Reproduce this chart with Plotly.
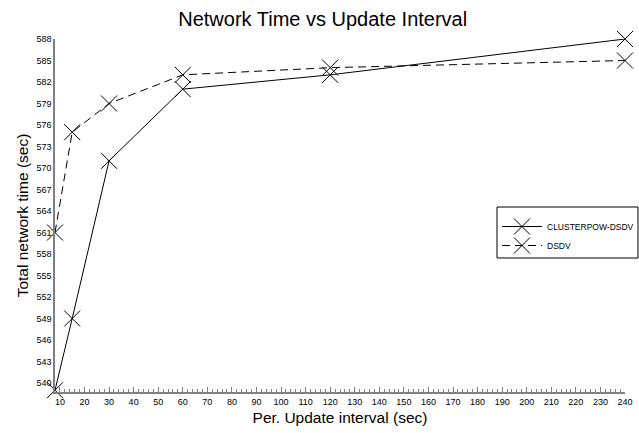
import plotly.graph_objects as go

# Update interval (sec) and total network time (sec) for each protocol
intervals = [8, 15, 30, 60, 120, 240]
clusterpow_dsdv = [539, 549, 571, 581, 583, 588]
dsdv = [561, 575, 579, 583, 584, 585]

y_ticks = list(range(540, 589, 3))
x_ticks = list(range(10, 241, 10))

FONT = "Liberation Sans, Arial, sans-serif"

# Plot area in pixels, used to place the legend and its frame
L, R, T, B = 55, 14, 39, 41
W, H = 639, 433
PW, PH = W - L - R, H - T - B


def px_x(p):
    return (p - L) / PW


def px_y(p):
    return (H - B - p) / PH


marker = dict(symbol="x-thin-open", size=16, color="black",
              line=dict(color="black", width=1))

fig = go.Figure()
fig.add_trace(go.Scatter(
    x=intervals, y=clusterpow_dsdv, name="CLUSTERPOW-DSDV",
    mode="lines+markers",
    line=dict(color="black", width=1),
    marker=marker, cliponaxis=False,
))
fig.add_trace(go.Scatter(
    x=intervals, y=dsdv, name="DSDV",
    mode="lines+markers",
    line=dict(color="black", width=1, dash="8px,5px"),
    marker=marker, cliponaxis=False,
))

# Legend frame
fig.add_shape(type="rect", xref="paper", yref="paper",
              x0=px_x(497), x1=px_x(638), y0=px_y(258), y1=px_y(207),
              line=dict(color="black", width=1), fillcolor="white", layer="below")

fig.update_layout(
    width=W, height=H,
    paper_bgcolor="white", plot_bgcolor="white",
    margin=dict(l=L, r=R, t=T, b=B, autoexpand=False),
    font=dict(family=FONT, color="black"),
    title=dict(text="Network Time vs Update Interval", x=0.505, xanchor="center",
               y=0.955, yanchor="middle", font=dict(size=20, family=FONT)),
    showlegend=True,
    legend=dict(x=px_x(497), y=px_y(212), xanchor="left", yanchor="top",
                borderwidth=0, bgcolor="rgba(0,0,0,0)",
                font=dict(size=8.5, family=FONT),
                itemwidth=40, tracegroupgap=0),
)

fig.update_xaxes(
    range=[8, 240],
    tickmode="array", tickvals=x_ticks, ticktext=[str(v) for v in x_ticks],
    ticks="inside", ticklen=5, tickcolor="#808080", tickwidth=1,
    minor=dict(dtick=2, tick0=0, ticks="inside", ticklen=3,
               tickcolor="#808080", tickwidth=1),
    showline=True, linecolor="#808080", linewidth=1.5,
    showgrid=False, zeroline=False,
    tickfont=dict(size=9, family=FONT),
    title=dict(text="Per. Update interval (sec)", font=dict(size=15.5, family=FONT),
               standoff=7),
)
fig.update_yaxes(
    range=[538.75, 588],
    tickmode="array", tickvals=y_ticks, ticktext=[str(v) for v in y_ticks],
    ticks="", showline=True, linecolor="#808080", linewidth=1.5,
    showgrid=False, zeroline=False,
    tickfont=dict(size=9, family=FONT),
    title=dict(text="Total network time (sec)", font=dict(size=15.5, family=FONT),
               standoff=4),
)

fig.write_html("out.html")
